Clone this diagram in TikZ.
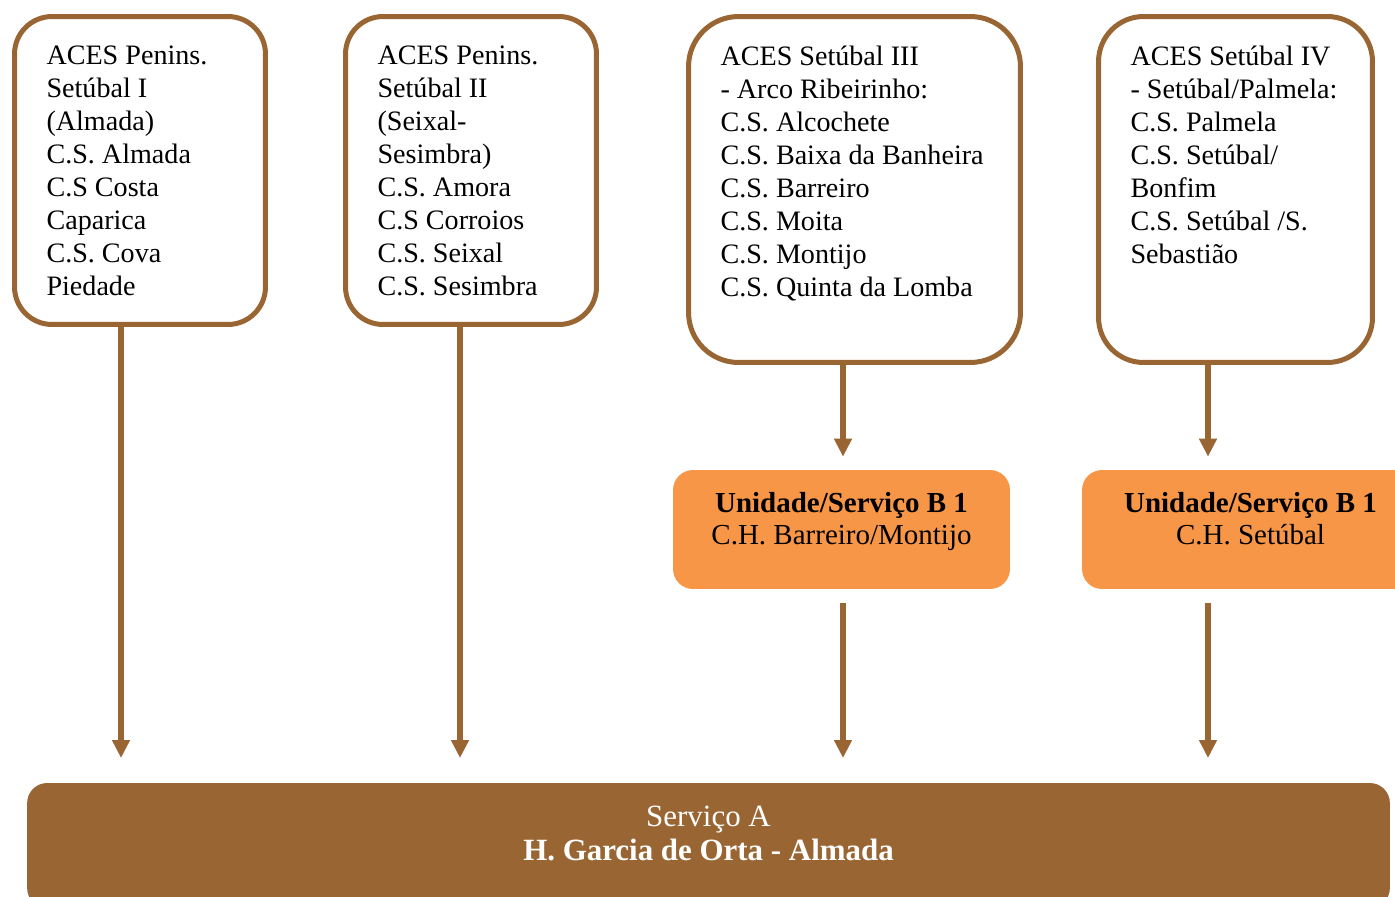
\documentclass[tikz,border=0pt]{standalone}
\usepackage{fontspec}
\setmainfont{Liberation Serif}
\usetikzlibrary{arrows.meta}

\definecolor{acesbrown}{RGB}{153,102,51}
\definecolor{unitorange}{RGB}{247,150,70}

% top-aligned text block of fixed size
\newcommand{\acestext}[3]{\parbox[t][#1][t]{#2}{\raggedright #3}}

\begin{document}
\begin{tikzpicture}[x=0.02cm, y=-0.02cm,
	aces/.style={draw=acesbrown, line width=0.1cm, fill=white, inner xsep=0.64cm, inner ysep=0.58cm, font=\fontsize{16pt}{18.8pt}\selectfont},
	unit/.style={fill=unitorange, rounded corners=0.4cm, minimum width=6.74cm, minimum height=2.38cm, align=center, text depth=0.46cm, font=\fontsize{16.5pt}{18.2pt}\selectfont},
	hosp/.style={fill=acesbrown, text=white, rounded corners=0.4cm, minimum width=27.26cm, minimum height=2.5cm, align=center, text depth=0.5cm, font=\fontsize{17.6pt}{19.3pt}\selectfont},
	arr/.style={draw=acesbrown, line width=0.11cm, -{Triangle[width=0.34cm, length=0.36cm]}}]
	\useasboundingbox (0,0) rectangle (1395,896);

	% ACES
	\node[aces, rounded corners=0.75cm] (b1) at (140,170.5) {\acestext{5.0cm}{3.74cm}{ACES Penins.\\Setúbal I\\(Almada)\\C.S. Almada\\C.S Costa\\Caparica\\C.S. Cova\\Piedade}};
	\node[aces, rounded corners=0.75cm] (b2) at (471,170.5) {\acestext{5.0cm}{3.74cm}{ACES Penins.\\Setúbal II\\(Seixal-\\Sesimbra)\\C.S. Amora\\C.S Corroios\\C.S. Seixal\\C.S. Sesimbra}};
	\node[aces, rounded corners=1cm] (b3) at (854.5,189.5) {\acestext{5.76cm}{5.36cm}{ACES Setúbal III\\- Arco Ribeirinho:\\C.S. Alcochete\\C.S. Baixa da Banheira\\C.S. Barreiro\\C.S. Moita\\C.S. Montijo\\C.S. Quinta da Lomba}};
	\node[aces, rounded corners=0.9cm] (b4) at (1235.5,189.5) {\acestext{5.76cm}{4.2cm}{ACES Setúbal IV\\- Setúbal/Palmela:\\C.S. Palmela\\C.S. Setúbal/\\Bonfim\\C.S. Setúbal /S.\\Sebastião}};

	% B units
	\node[unit] (u1) at (841.5,529.5) {\textbf{Unidade/Serviço B 1}\\C.H. Barreiro/Montijo};
	\node[unit] (u2) at (1250.5,529.5) {\textbf{Unidade/Serviço B 1}\\C.H. Setúbal};

	% A
	\node[hosp] (hgo) at (708.5,845.5) {Serviço A\\\textbf{H. Garcia de Orta - Almada}};

	\coordinate (e1) at (121,758);
	\coordinate (e2) at (460,758);
	\coordinate (e3) at (843,758);
	\coordinate (e4) at (1208,758);

	\path
		(b1.south -| e1) edge [arr] (e1)
		(b2.south -| e2) edge [arr] (e2)
		(b3.south -| e3) edge [arr, shorten >=0.26cm] (u1.north -| e3)
		(b4.south -| e4) edge [arr, shorten >=0.26cm] (u2.north -| e4)
		(u1.south -| e3) edge [arr, shorten <=0.28cm] (e3)
		(u2.south -| e4) edge [arr, shorten <=0.28cm] (e4)
	;
\end{tikzpicture}
\end{document}
